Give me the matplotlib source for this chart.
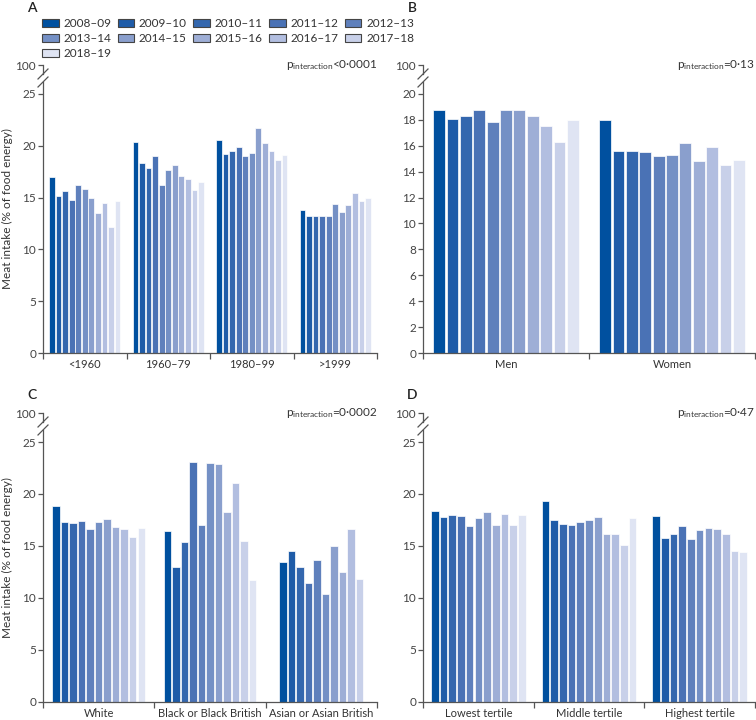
import matplotlib
matplotlib.use('Agg')
import matplotlib.pyplot as plt
from matplotlib.patches import Patch
import numpy as np

plt.rcParams['font.family'] = ['Lato', 'DejaVu Sans']
plt.rcParams['mathtext.fontset'] = 'custom'
plt.rcParams['mathtext.rm'] = 'Lato'
plt.rcParams['mathtext.it'] = 'Lato:italic'

# Survey years and colours (dark to light blue)
years = ['2008–09', '2009–10', '2010–11', '2011–12', '2012–13', '2013–14',
         '2014–15', '2015–16', '2016–17', '2017–18', '2018–19']
colors = ['#00509f', '#1f5ca8', '#3467ae', '#4a72b5', '#5f80bc', '#7490c5',
          '#8a9fcd', '#9eaed6', '#b2bee0', '#c8d0e9', '#dfe4f3']

# A: birth cohort
age_groups = ['<1960', '1960–79', '1980–99', '>1999']
age_values = [
    [17.0, 15.2, 15.6, 14.8, 16.2, 15.8, 15.0, 13.5, 14.5, 12.2, 14.7],
    [20.4, 18.3, 17.9, 19.0, 16.2, 17.7, 18.1, 17.1, 16.8, 15.7, 16.5],
    [20.6, 19.2, 19.5, 19.9, 19.0, 19.3, 21.7, 20.3, 19.5, 18.6, 19.1],
    [13.8, 13.2, 13.2, 13.2, 13.2, 14.4, 13.6, 14.3, 15.4, 14.7, 15.0],
]

# B: sex
sex_groups = ['Men', 'Women']
sex_values = [
    [18.8, 18.1, 18.3, 18.8, 17.8, 18.8, 18.8, 18.3, 17.5, 16.3, 18.0],
    [18.0, 15.6, 15.6, 15.5, 15.2, 15.3, 16.2, 14.8, 15.9, 14.5, 14.9],
]

# C: ethnicity (Asian group has 10 surveys)
eth_groups = ['White', 'Black or Black British', 'Asian or Asian British']
eth_values = [
    [18.8, 17.3, 17.2, 17.4, 16.6, 17.3, 17.6, 16.8, 16.6, 15.9, 16.7],
    [16.4, 13.0, 15.4, 23.1, 17.0, 23.0, 22.9, 18.3, 21.1, 15.5, 11.7],
    [13.5, 14.5, 13.0, 11.4, 13.7, 10.4, 15.0, 12.5, 16.6, 11.8],
]

# D: income tertile
inc_groups = ['Lowest tertile', 'Middle tertile', 'Highest tertile']
inc_values = [
    [18.4, 17.8, 18.0, 17.9, 16.9, 17.7, 18.3, 17.0, 18.1, 17.0, 18.0],
    [19.3, 17.5, 17.1, 17.0, 17.3, 17.5, 17.8, 16.2, 16.2, 15.1, 17.7],
    [17.9, 15.8, 16.2, 16.9, 15.7, 16.5, 16.7, 16.6, 16.2, 14.5, 14.4],
]

p_labels = ['<0·0001', '=0·13', '=0·0002', '=0·47']

W, H = 756, 720
fig = plt.figure(figsize=(W / 100, H / 100), dpi=100)

axis_col = '#555555'
text_col = '#333333'


def draw_panel(rect, groups, values, yticks, top, slot, letter, p, ylabel):
    left, bottom, width, height = rect
    ax = fig.add_axes([left / W, 1 - bottom / H, width / W, height / H])
    n = len(groups)
    for i, vals in enumerate(values):
        m = len(vals)
        offs = (np.arange(m) - (m - 1) / 2) * slot
        ax.bar(i + 0.5 + offs, vals, width=slot * 0.88, color=colors[:m],
               edgecolor='white', linewidth=0.5)

    ax.set_xlim(0, n)
    ax.set_ylim(0, top)
    ax.set_xticks(range(n + 1))
    ax.set_xticklabels([])
    ax.set_xticks(np.arange(n) + 0.5, minor=True)
    ax.set_xticklabels(groups, minor=True)
    ax.tick_params(axis='x', which='minor', length=0, pad=4,
                   labelsize=8, labelcolor=text_col)
    ax.tick_params(axis='x', which='major', length=4, width=0.9,
                   color=axis_col)
    ax.set_yticks(list(yticks) + [top])
    ax.set_yticklabels([str(t) for t in yticks] + ['100'])
    ax.tick_params(axis='y', length=3.5, width=0.9, pad=1.5, color=axis_col,
                   labelsize=8.5, labelcolor='#444444')

    for s in ['top', 'right']:
        ax.spines[s].set_visible(False)
    for s in ['left', 'bottom']:
        ax.spines[s].set_color(axis_col)
        ax.spines[s].set_linewidth(0.9)

    # broken y axis between the top value and 100
    hb = height
    y_hi = 1 - 9 / hb
    y_lo = 1 - 17 / hb
    ax.spines['left'].set_bounds(0, y_lo * top)
    ax.plot([0, 0], [y_hi, 1], transform=ax.transAxes, color=axis_col,
            lw=0.9, clip_on=False)
    dx, dy = 5 / width, 5 / hb
    for yc in (y_hi, y_lo):
        ax.plot([-dx, dx], [yc - dy, yc + dy], transform=ax.transAxes,
                color=axis_col, lw=0.9, clip_on=False)

    ax.text(1.0, 1.0, r'$\mathrm{p_{interaction}}$' + p,
            transform=ax.transAxes, ha='right', va='center',
            fontsize=8.5, color=text_col)
    ax.text(-11 / width, 1 + (bottom - height - letter[1]) / hb,
            letter[0], transform=ax.transAxes, ha='center', va='center',
            fontsize=10, fontweight='semibold', color='#222222')
    if ylabel:
        ax.set_ylabel('Meat intake (% of food energy)', fontsize=8.5,
                      color=text_col)
        ax.yaxis.set_label_coords(-30 / width, 0.5)
    return ax


draw_panel((43, 353, 334, 288), age_groups, age_values, range(0, 30, 5),
           25 + 29 / 10.36, 0.0784, ('A', 8), p_labels[0], True)
draw_panel((423, 353, 332, 288), sex_groups, sex_values, range(0, 22, 2),
           20 + 29 / 12.95, 0.0805, ('B', 8), p_labels[1], False)
draw_panel((43, 702, 334, 289), eth_groups, eth_values, range(0, 30, 5),
           25 + 29 / 10.4, 0.0765, ('C', 395), p_labels[2], True)
draw_panel((423, 702, 332, 289), inc_groups, inc_values, range(0, 30, 5),
           25 + 29 / 10.4, 0.0786, ('D', 395), p_labels[3], False)

# legend laid out row by row, 5 columns
order = [0, 5, 10, 1, 6, 2, 7, 3, 8, 4, 9]
handles = [Patch(facecolor=colors[k], edgecolor='#444444', linewidth=0.8)
           for k in order]
fig.legend(handles, [years[k] for k in order], ncol=5, loc='upper left',
           bbox_to_anchor=(42 / W, 1 - 18 / H), frameon=False, fontsize=8.5,
           handlelength=1.4, handleheight=0.7, handletextpad=0.4,
           columnspacing=0.55, labelspacing=0.35, borderaxespad=0,
           borderpad=0, labelcolor=text_col)

fig.savefig('out.png', dpi=100)
